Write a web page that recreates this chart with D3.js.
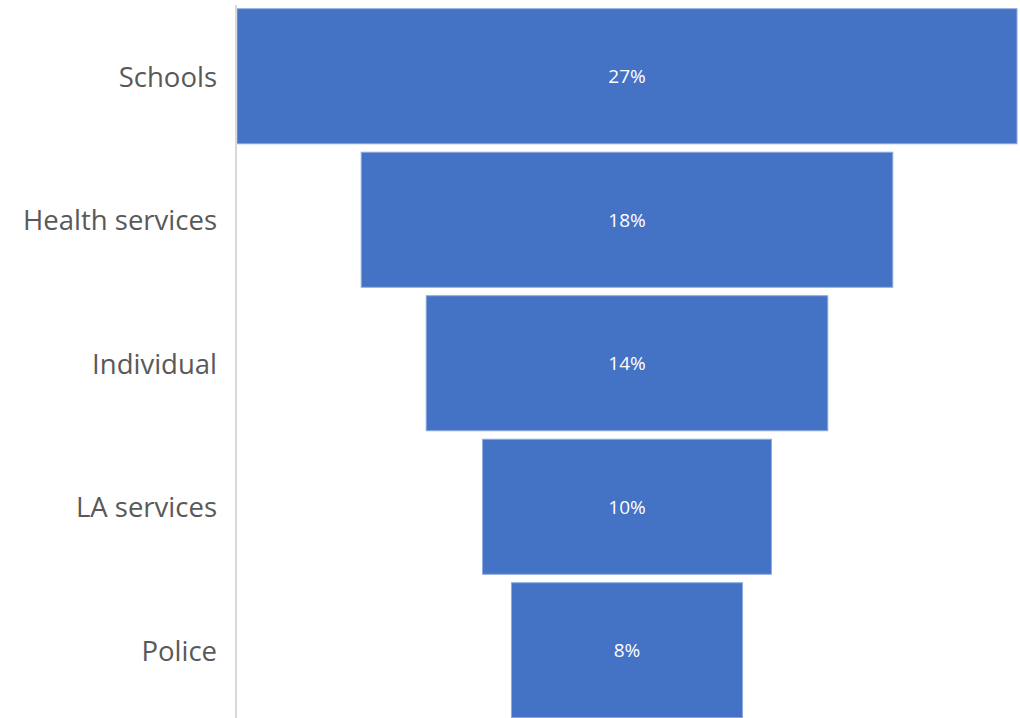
<!DOCTYPE html>
<html>
<head>
<meta charset="utf-8">
<script src="https://cdn.jsdelivr.net/npm/d3@7"></script>
<style>
  body { margin: 0; background: #fff; }
  svg { display: block; }
</style>
</head>
<body>
<svg id="chart"></svg>
<script>
const categories = ["Schools", "Health services", "Individual", "LA services", "Police"];
const shares = [27.0, 18.4, 13.9, 10.0, 8.0];
const shareLabels = ["27%", "18%", "14%", "10%", "8%"];

const width = 1020, height = 718;
const axisX = 236;          // category axis line
const centerX = 627;        // funnel centre
const maxWidth = 780;       // width of widest bar

const svg = d3.select("#chart")
    .attr("width", width)
    .attr("height", height);

const x = d3.scaleLinear()
    .domain([0, d3.max(shares)])
    .range([0, maxWidth]);

const y = d3.scaleBand()
    .domain(categories)
    .range([4.5, 722])
    .paddingInner(0.059)
    .paddingOuter(0.0295);

// bars
svg.append("g")
  .selectAll("rect")
  .data(categories)
  .join("rect")
    .attr("x", (d, i) => centerX - x(shares[i]) / 2)
    .attr("y", d => y(d))
    .attr("width", (d, i) => x(shares[i]))
    .attr("height", y.bandwidth())
    .attr("fill", "#4472c4")
    .attr("stroke", "#8eaadb")
    .attr("stroke-width", 1);

// value labels
svg.append("g")
  .selectAll("text")
  .data(categories)
  .join("text")
    .attr("x", centerX)
    .attr("y", d => y(d) + y.bandwidth() / 2)
    .attr("dy", "0.38em")
    .attr("text-anchor", "middle")
    .style("font-family", "'Open Sans', sans-serif")
    .style("font-size", "19px")
    .style("fill", "#fff")
    .text((d, i) => shareLabels[i]);

// category axis
const axis = svg.append("g")
    .attr("transform", `translate(${axisX},0)`)
    .call(d3.axisLeft(y).tickSize(0).tickPadding(19));

axis.select(".domain")
    .attr("d", `M0,5V${height}`)
    .attr("stroke", "#d9d9d9")
    .attr("stroke-width", 2);

axis.selectAll("text")
    .attr("dy", "0.38em")
    .style("font-family", "'Open Sans', sans-serif")
    .style("font-size", "27.5px")
    .style("fill", "#595959");
</script>
</body>
</html>
